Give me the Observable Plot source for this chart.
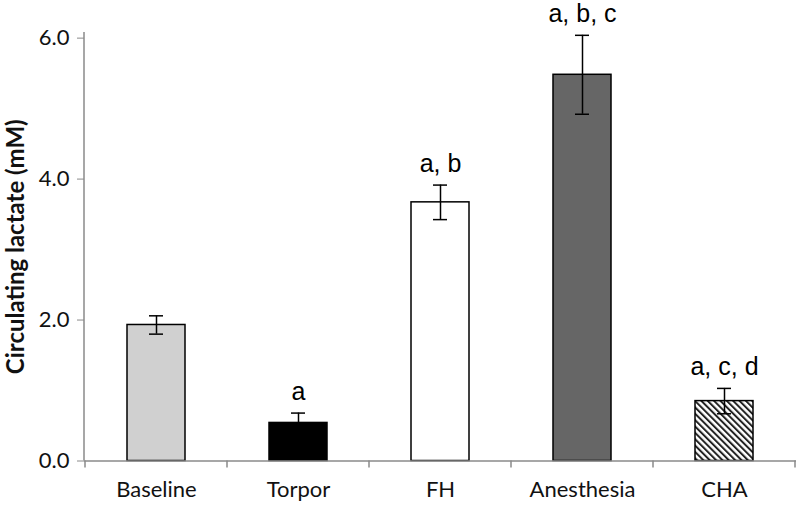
<!DOCTYPE html>
<html><head><meta charset="utf-8">
<script src="https://cdn.jsdelivr.net/npm/d3@7"></script>
<script src="https://cdn.jsdelivr.net/npm/@observablehq/plot@0.6"></script>
<style>body{margin:0;background:#fff}</style>
</head><body><div id="chart"></div>
<script>
const categories = ["Baseline", "Torpor", "FH", "Anesthesia", "CHA"];
const means = [1.93, 0.54, 3.67, 5.48, 0.85];
const sems = [0.13, 0.14, 0.245, 0.56, 0.18];
const letters = ["", "a", "a, b", "a, b, c", "a, c, d"];
const yTicks = [0, 2, 4, 6];
const yTitle = "Circulating lactate (mM)";

const data = categories.map((c, i) => ({cat: c, mean: means[i], lo: means[i] - sems[i], hi: means[i] + sems[i], label: letters[i]}));
const barFills = ["#d0d0d0", "#000000", "#ffffff", "#666666", "url(#hatch)"];

function defsMark() {
  const d = d3.create("svg:defs");
  const p = d.append("pattern").attr("id", "hatch").attr("patternUnits", "userSpaceOnUse")
    .attr("width", 4.5).attr("height", 4.5).attr("patternTransform", "rotate(-45)");
  p.append("rect").attr("width", 4.5).attr("height", 4.5).attr("fill", "#fff");
  p.append("rect").attr("width", 2).attr("height", 4.5).attr("fill", "#222");
  return d.node();
}

function axisDecor(index, {x, y}) {
  const g = d3.create("svg:g").attr("stroke", "#8a8a8a").attr("stroke-width", 1.5);
  const [d0, d1] = y.domain();
  const x0 = x.range()[0];
  g.append("line").attr("x1", x0).attr("x2", x0).attr("y1", y(d1)).attr("y2", y(d0));
  const step = x.step(), bw = x.bandwidth();
  const bounds = categories.map(c => x(c) + bw / 2 - step / 2);
  bounds.push(x(categories[categories.length - 1]) + bw / 2 + step / 2);
  bounds.forEach(b => g.append("line").attr("x1", b).attr("x2", b).attr("y1", y(0)).attr("y2", y(0) + 7));
  return g.node();
}

const plot = Plot.plot({
  width: 800,
  height: 506,
  marginLeft: 84,
  marginRight: 4,
  marginTop: 32,
  marginBottom: 45.5,
  style: {fontFamily: "Lato, 'Open Sans', sans-serif", fontSize: "22px", background: "#fff"},
  x: {domain: categories, paddingInner: 0.593, paddingOuter: 0.2965, axis: null},
  y: {domain: [0, 6.08], axis: null},
  color: {domain: categories, range: barFills},
  marks: [
    defsMark,
    Plot.barY(data, {x: "cat", y: "mean", fill: "cat", stroke: "#000", strokeWidth: 1.5}),
    Plot.ruleY([0], {stroke: "#8a8a8a", strokeWidth: 1.5}),
    axisDecor,
    Plot.axisY(yTicks, {tickFormat: d3.format(".1f"), tickSize: 7, tickPadding: 8, stroke: "#8a8a8a", fill: "#111", fontSize: 22, label: null}),
    Plot.axisX({tickSize: 0, tickPadding: 20, fill: "#111", fontSize: 22, label: null}),
    Plot.text([yTitle], {frameAnchor: "left", textAnchor: "middle", dx: -68, rotate: -90, fontWeight: "bold", fontSize: 24, fill: "#111"}),
    Plot.ruleX(data, {x: "cat", y1: "lo", y2: "hi", stroke: "#000", strokeWidth: 1.5}),
    Plot.tickY(data, {x: "cat", y: "hi", insetLeft: 22, insetRight: 22, stroke: "#000", strokeWidth: 1.5}),
    Plot.tickY(data, {x: "cat", y: "lo", insetLeft: 22, insetRight: 22, stroke: "#000", strokeWidth: 1.5}),
    Plot.text(data, {x: "cat", y: "hi", text: "label", dy: -13, lineAnchor: "bottom", fontFamily: "'Liberation Sans', Arial, sans-serif", fontSize: 25, fill: "#000"})
  ]
});
document.getElementById("chart").appendChild(plot);
</script>
</body></html>
